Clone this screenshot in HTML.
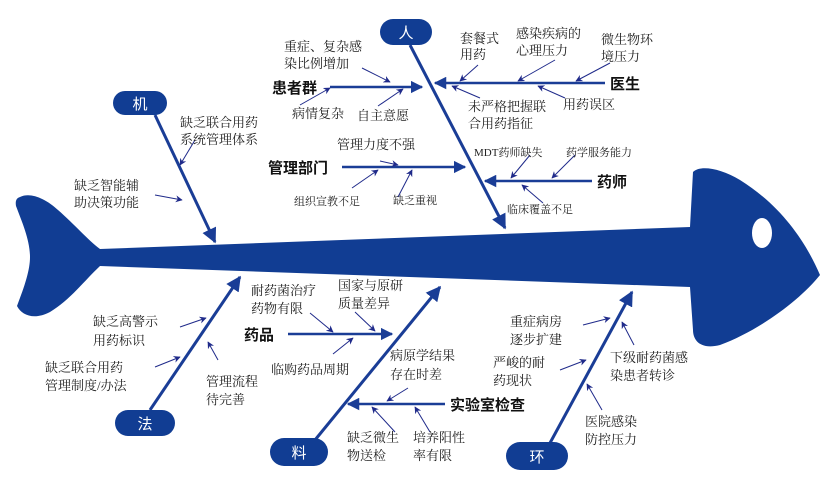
<!DOCTYPE html>
<html><head><meta charset="utf-8"><style>
html,body{margin:0;padding:0;background:#fff;}
svg{display:block;}
text{font-family:"Liberation Serif","Noto Serif CJK SC","Noto Sans CJK SC",serif;font-size:13px;fill:#222;}
.b{font-family:"Liberation Sans","Noto Sans CJK SC",sans-serif;font-size:15px;font-weight:bold;fill:#111;}
.w{font-family:"Liberation Sans","Noto Sans CJK SC",sans-serif;font-size:15px;fill:#fff;text-anchor:middle;}
</style></head><body>
<svg width="829" height="483" viewBox="0 0 829 483" xmlns="http://www.w3.org/2000/svg">
<defs>
<marker id="a" viewBox="0 0 10 10" refX="9" refY="5" markerWidth="5" markerHeight="5" orient="auto"><path d="M0,0 L10,5 L0,10 z" fill="#1a3d96"/></marker>
<marker id="s" viewBox="0 0 10 10" refX="9" refY="5" markerWidth="7" markerHeight="7" orient="auto"><path d="M0,0 L10,5 L0,10 L3,5 z" fill="#1f2a8a"/></marker>
</defs>
<!-- fish -->
<path d="M20,197 C30,192 45,198 58,210 C75,225 88,240 100,249 L690,227 L693,172 C700,165 720,168 740,180 C780,205 805,240 820,275 C800,300 760,330 720,345 C700,350 693,340 693,330 L690,287 L100,266 C85,280 70,300 50,312 C35,320 22,316 17,306 C25,285 30,270 30,257 C30,240 22,222 16,206 C15,200 17,198 20,197 Z" fill="#113d93"/>
<ellipse cx="762" cy="233" rx="10" ry="15" fill="#fff"/>
<g stroke="#1a3d96" stroke-width="3" fill="none" marker-end="url(#a)">
<line x1="155" y1="115" x2="215" y2="242"/>
<line x1="410" y1="45" x2="505" y2="228"/>
<line x1="150" y1="410" x2="240" y2="277"/>
<line x1="315" y1="440" x2="440" y2="287"/>
<line x1="550" y1="443" x2="632" y2="292"/>
</g>
<g stroke="#1a3d96" stroke-width="2.5" fill="none" marker-end="url(#a)">
<line x1="330" y1="87" x2="422" y2="87"/>
<line x1="605" y1="83" x2="435" y2="83"/>
<line x1="342" y1="167" x2="465" y2="167"/>
<line x1="592" y1="181" x2="485" y2="181"/>
<line x1="288" y1="334" x2="392" y2="334"/>
<line x1="445" y1="404" x2="348" y2="404"/>
</g>
<g stroke="#1f2a8a" stroke-width="1" fill="none" marker-end="url(#s)">
<line x1="362" y1="68" x2="390" y2="82"/>
<line x1="300" y1="105" x2="330" y2="88"/>
<line x1="378" y1="106" x2="403" y2="89"/>
<line x1="478" y1="65" x2="460" y2="81"/>
<line x1="555" y1="60" x2="518" y2="81"/>
<line x1="610" y1="63" x2="576" y2="81"/>
<line x1="480" y1="98" x2="452" y2="86"/>
<line x1="565" y1="98" x2="538" y2="86"/>
<line x1="195" y1="140" x2="180" y2="165"/>
<line x1="155" y1="195" x2="182" y2="200"/>
<line x1="380" y1="161" x2="398" y2="165"/>
<line x1="352" y1="188" x2="378" y2="170"/>
<line x1="398" y1="197" x2="412" y2="170"/>
<line x1="530" y1="155" x2="511" y2="178"/>
<line x1="575" y1="155" x2="552" y2="178"/>
<line x1="543" y1="203" x2="522" y2="185"/>
<line x1="180" y1="327" x2="206" y2="318"/>
<line x1="155" y1="367" x2="180" y2="357"/>
<line x1="218" y1="360" x2="208" y2="342"/>
<line x1="310" y1="313" x2="333" y2="332"/>
<line x1="355" y1="312" x2="375" y2="331"/>
<line x1="333" y1="354" x2="353" y2="338"/>
<line x1="408" y1="388" x2="387" y2="401"/>
<line x1="395" y1="432" x2="372" y2="407"/>
<line x1="430" y1="432" x2="415" y2="407"/>
<line x1="583" y1="325" x2="610" y2="318"/>
<line x1="560" y1="370" x2="586" y2="360"/>
<line x1="634" y1="345" x2="622" y2="322"/>
<line x1="602" y1="410" x2="587" y2="384"/>
</g>
<!-- ovals -->
<rect x="113" y="91" width="54" height="24" rx="12" fill="#113d93"/><text class="w" x="140" y="109">机</text>
<rect x="380" y="19" width="52" height="26" rx="13" fill="#113d93"/><text class="w" x="406" y="38">人</text>
<rect x="115" y="410" width="60" height="26" rx="13" fill="#113d93"/><text class="w" x="145" y="429">法</text>
<rect x="270" y="438" width="58" height="28" rx="14" fill="#113d93"/><text class="w" x="299" y="458">料</text>
<rect x="506" y="442" width="62" height="28" rx="14" fill="#113d93"/><text class="w" x="537" y="462">环</text>
<!-- bold labels -->
<text class="b" x="272" y="93">患者群</text>
<text class="b" x="610" y="89">医生</text>
<text class="b" x="268" y="173">管理部门</text>
<text class="b" x="597" y="187">药师</text>
<text class="b" x="244" y="340">药品</text>
<text class="b" x="450" y="410">实验室检查</text>
<!-- small labels -->
<text x="284" y="51">重症、复杂感</text><text x="284" y="68">染比例增加</text>
<text x="292" y="118">病情复杂</text>
<text x="357" y="120">自主意愿</text>
<text x="460" y="43">套餐式</text><text x="460" y="59">用药</text>
<text x="516" y="38">感染疾病的</text><text x="516" y="55">心理压力</text>
<text x="601" y="44">微生物环</text><text x="601" y="61">境压力</text>
<text x="468" y="111">未严格把握联</text><text x="468" y="128">合用药指征</text>
<text x="563" y="109">用药误区</text>
<text x="180" y="127">缺乏联合用药</text><text x="180" y="144">系统管理体系</text>
<text x="74" y="190">缺乏智能辅</text><text x="74" y="207">助决策功能</text>
<text x="337" y="149">管理力度不强</text>
<text x="294" y="205" style="font-size:11px">组织宣教不足</text>
<text x="393" y="204" style="font-size:11px">缺乏重视</text>
<text x="474" y="156" style="font-size:11px">MDT药师缺失</text>
<text x="566" y="156" style="font-size:11px">药学服务能力</text>
<text x="507" y="213" style="font-size:11px">临床覆盖不足</text>
<text x="93" y="326">缺乏高警示</text><text x="93" y="345">用药标识</text>
<text x="45" y="372">缺乏联合用药</text><text x="45" y="390">管理制度/办法</text>
<text x="206" y="386">管理流程</text><text x="206" y="404">待完善</text>
<text x="251" y="295">耐药菌治疗</text><text x="251" y="313">药物有限</text>
<text x="338" y="290">国家与原研</text><text x="338" y="308">质量差异</text>
<text x="271" y="374">临购药品周期</text>
<text x="390" y="360">病原学结果</text><text x="390" y="379">存在时差</text>
<text x="347" y="442">缺乏微生</text><text x="347" y="460">物送检</text>
<text x="413" y="442">培养阳性</text><text x="413" y="460">率有限</text>
<text x="510" y="326">重症病房</text><text x="510" y="344">逐步扩建</text>
<text x="493" y="367">严峻的耐</text><text x="493" y="385">药现状</text>
<text x="610" y="362">下级耐药菌感</text><text x="610" y="380">染患者转诊</text>
<text x="585" y="426">医院感染</text><text x="585" y="444">防控压力</text>
</svg>
</body></html>
